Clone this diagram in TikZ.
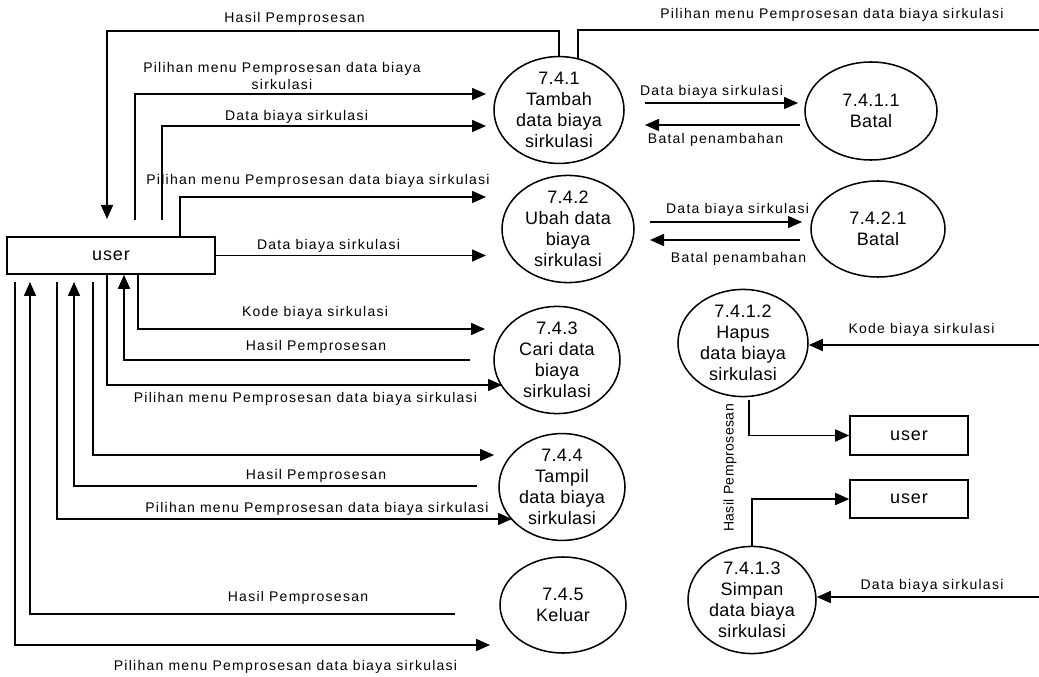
\documentclass[tikz,border=0pt]{standalone}
\usepackage{fontspec}
\setmainfont{Liberation Sans}
\newfontfamily\lblfont[LetterSpace=9]{Liberation Sans}
\newfontfamily\lblplain[LetterSpace=3]{Liberation Sans}
\newfontfamily\procfont[LetterSpace=2]{Liberation Sans}
\newfontfamily\entfont[LetterSpace=5]{Liberation Sans}
\usetikzlibrary{shapes.geometric,arrows.meta}
\begin{document}
\begin{tikzpicture}[x=0.75pt,y=-0.75pt,
  flow/.style={line width=1.15pt},
  arr/.style={flow,-{Triangle[length=10.5pt,width=9pt]}},
  proc/.style={draw,line width=1.15pt,ellipse,inner sep=0pt,align=center,
    font=\procfont\fontsize{13.5}{15.75}\selectfont},
  ent/.style={draw,line width=1.15pt,rectangle,inner sep=0pt,
    font=\entfont\fontsize{13.5}{15}\selectfont},
  lbl/.style={inner sep=0pt,align=center,font=\lblfont\fontsize{10.5}{12.75}\selectfont},
]
\useasboundingbox (0,0) rectangle (1039,677);

% entities
\node[ent,minimum width=156pt,minimum height=27.75pt] (user) at (111,255.5) {user};
\node[ent,minimum width=88.5pt,minimum height=29.25pt] (user2) at (909,435.5) {user};
\node[ent,minimum width=88.5pt,minimum height=28.5pt] (user3) at (909,499) {user};

% processes
\node[proc,minimum width=97.5pt,minimum height=73.5pt] (p741) at (559,110) {7.4.1\\Tambah\\data biaya\\sirkulasi};
\node[proc,minimum width=99pt,minimum height=73.5pt] (p7411) at (871,111) {7.4.1.1\\Batal};
\node[proc,minimum width=99pt,minimum height=76.5pt] (p742) at (568,229) {7.4.2\\Ubah data\\biaya\\sirkulasi};
\node[proc,minimum width=100.5pt,minimum height=72pt] (p7421) at (878,229) {7.4.2.1\\Batal};
\node[proc,minimum width=94.5pt,minimum height=72pt] (p743) at (557,360) {7.4.3\\Cari data\\biaya\\sirkulasi};
\node[proc,minimum width=94.5pt,minimum height=73.5pt] (p744) at (562,487) {7.4.4\\Tampil\\data biaya\\sirkulasi};
\node[proc,minimum width=94.5pt,minimum height=72pt] (p745) at (563,605) {7.4.5\\Keluar};
\node[proc,minimum width=97.5pt,minimum height=73.5pt] (p7412) at (743,343) {7.4.1.2\\Hapus\\data biaya\\sirkulasi};
\node[proc,minimum width=96pt,minimum height=72pt] (p7413) at (752,600) {7.4.1.3\\Simpan\\data biaya\\sirkulasi};

% free ends
\coordinate (c1) at (107,31);
\coordinate (h1) at (107,219);
\coordinate (s2) at (135,220); \coordinate (e2) at (486,94);
\coordinate (s3) at (162,220); \coordinate (e3) at (486,126);
\coordinate (e4) at (486,197);
\coordinate (e5) at (486,255.5);
\coordinate (e6) at (485,329);
\coordinate (s7) at (470,360);
\coordinate (e8) at (502,385);
\coordinate (s9) at (93,282);   \coordinate (e9) at (494,455);
\coordinate (s10) at (477,486); \coordinate (e10) at (74,282);
\coordinate (s11) at (57,282);  \coordinate (e11) at (512,519);
\coordinate (s12) at (455,614); \coordinate (e12) at (30,282);
\coordinate (s13) at (15,282);  \coordinate (e13) at (490,645);
\coordinate (r14) at (1039,30);
\coordinate (a1) at (645,103); \coordinate (b1) at (798,103);
\coordinate (a2) at (800,125); \coordinate (b2) at (645,125);
\coordinate (a3) at (650,222); \coordinate (b3) at (802,222);
\coordinate (a4) at (800,240); \coordinate (b4) at (650,240);
\coordinate (r17) at (1039,345);
\coordinate (s18) at (749,400);
\coordinate (r20) at (1039,597);

% connectors
\draw[arr] (p741.north) |- (c1) -- (h1);
\draw[arr] (s2) |- (e2);
\draw[arr] (s3) |- (e3);
\draw[arr] (user.north -| 180,0) |- (e4);
\draw[arr] (user.east) -- (e5);
\draw[arr] (user.south -| 138,0) |- (e6);
\draw[arr] (s7) -| (user.south -| 124,0);
\draw[arr] (user.south -| 107,0) |- (e8);
\draw[arr] (s9) |- (e9);
\draw[arr] (s10) -| (e10);
\draw[arr] (s11) |- (e11);
\draw[arr] (s12) -| (e12);
\draw[arr] (s13) |- (e13);
\draw[flow] (r14) -| (p741.70);
\draw[arr] (a1) -- (b1);
\draw[arr] (a2) -- (b2);
\draw[arr] (a3) -- (b3);
\draw[arr] (a4) -- (b4);
\draw[arr] (r17) -- (p7412.east |- r17);
\draw[arr] (s18) |- (user2.west);
\draw[arr] (p7413.north) |- (user3.west);
\draw[arr] (r20) -- (p7413.east |- r20);

% labels
\node[lbl] (l1) at (294.5,19) {Hasil Pemprosesan};
\node[lbl] (l2) at (282,75.5) {Pilihan menu Pemprosesan data biaya\\sirkulasi};
\node[lbl] (l3) at (296.5,117) {Data biaya sirkulasi};
\node[lbl] (l4) at (318,181) {Pilihan menu Pemprosesan data biaya sirkulasi};
\node[lbl] (l5) at (328.5,246) {Data biaya sirkulasi};
\node[lbl] (l6) at (315,313) {Kode biaya sirkulasi};
\node[lbl] (l7) at (316,347) {Hasil Pemprosesan};
\node[lbl] (l8) at (305.5,399) {Pilihan menu Pemprosesan data biaya sirkulasi};
\node[lbl] (l9) at (316,476) {Hasil Pemprosesan};
\node[lbl] (l10) at (317,509) {Pilihan menu Pemprosesan data biaya sirkulasi};
\node[lbl] (l11) at (298,598) {Hasil Pemprosesan};
\node[lbl] (l12) at (285.5,667) {Pilihan menu Pemprosesan data biaya sirkulasi};
\node[lbl] (l13) at (832,15) {Pilihan menu Pemprosesan data biaya sirkulasi};
\node[lbl] (l14) at (711.5,92) {Data biaya sirkulasi};
\node[lbl] (l15) at (715.5,140) {Batal penambahan};
\node[lbl] (l16) at (737.5,210) {Data biaya sirkulasi};
\node[lbl] (l17) at (738.5,259) {Batal penambahan};
\node[lbl] (l18) at (921.5,330) {Kode biaya sirkulasi};
\node[lbl,rotate=90,font=\lblplain\fontsize{10.5}{12.75}\selectfont] (l19) at (730,468) {Hasil Pemprosesan};
\node[lbl] (l20) at (932,586) {Data biaya sirkulasi};
\end{tikzpicture}
\end{document}
